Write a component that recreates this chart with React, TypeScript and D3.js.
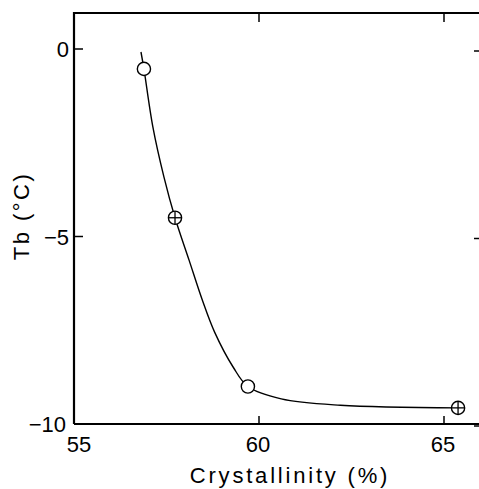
import React from "react";
import * as d3 from "d3";

const xTicks = [55, 60, 65];
const yTicks = [0, -5, -10];
const openPoints: [number, number][] = [
  [56.89, -0.53],
  [59.7, -9.0],
];
const crossedPoints: [number, number][] = [
  [57.73, -4.5],
  [65.38, -9.57],
];
const curvePoints: [number, number][] = [
  [56.81, -0.08],
  [56.89, -0.53],
  [57.13, -2.07],
  [57.43, -3.41],
  [57.73, -4.5],
  [58.11, -5.63],
  [58.47, -6.7],
  [58.8, -7.55],
  [59.3, -8.48],
  [59.7, -9.0],
  [60.6, -9.33],
  [62.2, -9.5],
  [65.38, -9.57],
];

const W = 479;
const H = 489;

export default function App() {
  const x = d3.scaleLinear().domain([55, 66]).range([74, 481]);
  const y = d3.scaleLinear().domain([-10, 0]).range([424, 49]);
  const yTop = y(0.96);
  const line = d3
    .line<[number, number]>()
    .x((d) => x(d[0]))
    .y((d) => y(d[1]))
    .curve(d3.curveCatmullRom.alpha(0.5));
  const font = "'Liberation Sans', Arial, sans-serif";
  const r = 6.6;
  return (
    <svg
      width={W}
      height={H}
      style={{ position: "absolute", left: 0, top: 0, background: "#fff" }}
    >
      <rect x={0} y={0} width={W} height={H} fill="#fff" />
      {/* frame */}
      <path
        d={`M${x(55)},${y(-10)} L${x(55)},${yTop} L${W},${yTop} M${x(55)},${y(-10)} L${W},${y(-10)}`}
        fill="none"
        stroke="#000"
        strokeWidth={2.2}
      />
      {/* x ticks */}
      {xTicks.map((t) => (
        <g key={"xt" + t}>
          <line x1={x(t)} x2={x(t)} y1={y(-10)} y2={y(-10) - 8} stroke="#000" strokeWidth={1.5} />
          <line x1={x(t)} x2={x(t)} y1={yTop} y2={yTop + 9} stroke="#000" strokeWidth={1.5} />
          <text
            x={x(t) + (t === 55 ? 5 : -1)}
            y={y(-10) + 28}
            textAnchor="middle"
            fontFamily={font}
            fontSize={22}
            fill="#000"
          >
            {t}
          </text>
        </g>
      ))}
      {/* y ticks */}
      {yTicks.map((t) => (
        <g key={"yt" + t}>
          <line x1={x(55)} x2={x(55) + 9} y1={y(t)} y2={y(t)} stroke="#000" strokeWidth={1.5} />
          <line x1={W - 5} x2={W} y1={y(t) + 2} y2={y(t) + 2} stroke="#000" strokeWidth={1.5} />
          <text
            x={x(55) - (t === -10 ? 8 : 5)}
            y={y(t) + 8}
            textAnchor="end"
            fontFamily={font}
            fontSize={22}
            fill="#000"
          >
            {t === 0 ? "0" : "\u2212" + Math.abs(t)}
          </text>
        </g>
      ))}
      {/* curve */}
      <path d={line(curvePoints) || ""} fill="none" stroke="#000" strokeWidth={1.4} />
      {/* open points */}
      {openPoints.map((p, i) => (
        <circle key={"o" + i} cx={x(p[0])} cy={y(p[1])} r={r} fill="#fff" stroke="#000" strokeWidth={1.4} />
      ))}
      {/* crossed points */}
      {crossedPoints.map((p, i) => (
        <g key={"c" + i}>
          <circle cx={x(p[0])} cy={y(p[1])} r={r} fill="#fff" stroke="#000" strokeWidth={1.4} />
          <line x1={x(p[0]) - r} x2={x(p[0]) + r} y1={y(p[1])} y2={y(p[1])} stroke="#000" strokeWidth={1.3} />
          <line x1={x(p[0])} x2={x(p[0])} y1={y(p[1]) - r} y2={y(p[1]) + r} stroke="#000" strokeWidth={1.3} />
        </g>
      ))}
      {/* axis titles */}
      <text
        x={290}
        y={483}
        textAnchor="middle"
        fontFamily={font}
        fontSize={22}
        letterSpacing={2.8}
        fill="#000"
      >
        Crystallinity (%)
      </text>
      <text
        transform="translate(29,216) rotate(-90)"
        textAnchor="middle"
        fontFamily={font}
        fontSize={22}
        letterSpacing={2.5}
        fill="#000"
      >
        Tb (°C)
      </text>
    </svg>
  );
}
